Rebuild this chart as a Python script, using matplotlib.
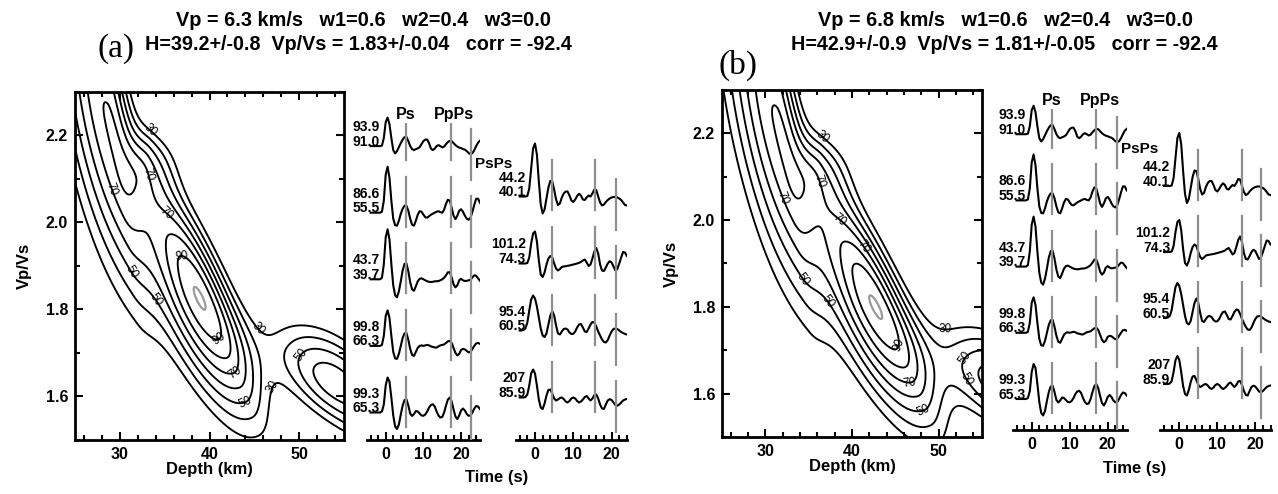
import numpy as np
import matplotlib
matplotlib.use("Agg")
import matplotlib.pyplot as plt
from matplotlib.ticker import MultipleLocator

# ------------------------------------------------------------------ data
# receiver-function traces: samples every 0.5 s starting at -4 s
rf_t0 = -4.0
rf_dt = 0.5
trace_L1 = [0,0,0,0,0,0, 0.5,8,24,28.5,22,8,-4,-7.3,-5,-1, 3,6.5,9,9.2,5,0,-3,-4,-3,-2.3,
            -1,2,5,6.5,6.5,3,-2.5,-4,-2.5,0, 1,0,-1.3,-0.5,2,4,5.3,5,3,1,
            -0.5,-1.5,-2,-3,-3.5,-5,-7,-8,-7,-4, 0,3.5,5.3]
trace_L2 = [0,0,0,0,0,0, 1,12,38,46,35,12,-6,-12.5,-13,-8, -1,4,7,7,2,-6,-12,-13,-8,-2,
            1.5,1,-2,-4.5,-5,-3.5,-2,-1,0,1, 1.5,0.5,0,3,9,13,12,5,-3,-6.5,
            -3,2,3.5,1,-3,-6,-7,-5,1,8, 14,14,10]
trace_L3 = [0,0,0,0,0,0, 1.5,15,42,50,40,15,-6,-16,-18,-12, -2,9,15.5,16,8,-3,-10,-11.5,-7,-2,
            0.5,1,0,-1,-2,-2.5,-2.7,-2.5,-2,-2, -1.7,-1,0,1.5,4,7,7,2,-5,-8,
            -6,-1,0.5,-1,-1.7,-1.5,-1,-0.5,2,4, 3.5,1,-1.5]
trace_L4 = [0,0,0,0,0,0, 1,10,30,35.5,28,10,-6,-12.5,-13,-8, 0,8,12.5,13,6,-3,-9,-10,-6,-2,
            0,0.5,0,0.5,1,0.5,-0.5,-1,-1.5,-1.7, -0.5,0.5,1,1.5,3,4.5,5,3,-2,-7,
            -9.5,-8,-4,-3,-3.5,-5,-6.5,-6,-3,0, 2.5,3,2]
trace_L5 = [0,0,0,0,0,0, 1,8,27,35,31,15,-3,-14,-16.5,-12, -2,7,12.5,13.3,7,-1,-3.5,-1.5,1.5,1,
            -1,-3,-3.3,-2,1,5,7.5,8.3,6,1, -3,-5,-4.5,0,7,13,15,11,3,-4,
            -6.5,-3,2,4,2,-1.5,-3.3,-3,0,4, 6.5,6,3.5]
trace_R1 = [0,0,0,0,0.5,8,28,48,53,42, 15,-8,-17,-13,-2,9,15.5,15,7,-3,
            -8.5,-7,-1,3,5,5,1,-4,-5.5,-3, 0.5,2.7,1,-3,-3.5,-1,1,0,3,7,
            6.5,0,-6,-9,-8,-5.5,-3.5,-2,-1,-0.5, -0.5,-1,-2,-3.5,-6,-8.5,-9]
trace_R2 = [0,0,0,0,0.5,6,20,30,32,22, 3,-11,-13.5,-9,-1,5,7.5,6,0,-5,
            -7,-5.5,-3.5,-3,-2.7,-2.3,-2,-1.5,-1,-0.5, 0,0.7,1.5,3,4,1,-2.5,-1,5,12,
            15.5,10,-1,-7,-7.5,-4,0,2.3,1,-3, -7,-5.5,0,6,11.5,11,7.5]
trace_R3 = [0,0,0.5,2,8,20,31,35,32,24, 13,2,-5,-6.5,-3,6,15,19.5,15,5,
            -3,-4,-1,1.5,2,1,-2,-3.5,-3.3,-1, 3,6,6.5,3,-1,-1.5,2,6,8.5,8,
            4,-1,-5,-9,-11.5,-12,-9.5,-5,-1,1.5, 2,1.5,0,-1.5,-2.5,-3.5,-4]
trace_R4 = [0,0,0,0.5,3,12,24,28,24,12, -2,-10,-11.5,-6,2,7.5,8,4,-1,-3,
            -2,-0.5,0,-1.5,-4,-5,-3.5,-1,0,-1, -3.5,-5,-4,-2,0.5,1.5,-1,-3,-1,2.5,
            3,-1,-7,-11,-11.5,-7,-3,-1.7,-2.5,-5, -7.5,-8.3,-7,-5,-3,-2,-1.5]

left_labels = [("93.9", "91.0"), ("86.6", "55.5"), ("43.7", "39.7"), ("99.8", "66.3"), ("99.3", "65.3")]
right_labels = [("44.2", "40.1"), ("101.2", "74.3"), ("95.4", "60.5"), ("207", "85.9")]
phase_names = ["Ps", "PpPs", "PsPs"]
# predicted phase times (s) per column
phase_t_a_left = [5.4, 17.2, 22.6]
phase_t_a_right = [4.5, 15.8, 21.1]
phase_t_b_left = [5.3, 17.0, 22.4]
phase_t_b_right = [5.0, 16.4, 21.6]

# H-k stacking surface, described by its lobes
depth_lim = (25, 55)
vpvs_lim = (1.5, 2.3)
#            main   band   upper-left  shoulder  lower-right
hk_a_depth = [39.2, 37.5, 27.5, 33.3, 54.0]
hk_a_vpvs = [1.83, 1.86, 2.45, 2.15, 1.63]
hk_a_amp = [0.70, 0.30, 0.67, 0.22, 0.66]
hk_a_sig_up = [0.28, 0.55, 0.30, 0.05, 0.20]
hk_a_sig_dn = [0.30, 0.30, 0.50, 0.10, 0.24]
hk_a_sig_lo = [0.10, 0.16, 0.12, 0.08, 0.085]
hk_a_sig_hi = [0.075, 0.07, 0.06, 0.07, 0.10]
hk_a_angle = [-62, -57, -80, -10, -30]

hk_b_depth = [42.9, 41.0, 30.1, 36.4, 57.5]
hk_b_vpvs = [1.81, 1.84, 2.43, 2.13, 1.615]
hk_b_amp = [0.70, 0.30, 0.67, 0.22, 0.68]
hk_b_sig_up = [0.29, 0.57, 0.31, 0.055, 0.21]
hk_b_sig_dn = [0.31, 0.31, 0.52, 0.11, 0.25]
hk_b_sig_lo = [0.104, 0.166, 0.125, 0.083, 0.088]
hk_b_sig_hi = [0.078, 0.073, 0.062, 0.073, 0.104]
hk_b_angle = [-60, -55, -79, -9, -28]

title_a = ["Vp = 6.3 km/s   w1=0.6   w2=0.4   w3=0.0",
           "H=39.2+/-0.8  Vp/Vs = 1.83+/-0.04   corr = -92.4"]
title_b = ["Vp = 6.8 km/s   w1=0.6   w2=0.4   w3=0.0",
           "H=42.9+/-0.9  Vp/Vs = 1.81+/-0.05   corr = -92.4"]

# contour-label anchor points (depth, Vp/Vs)
clab_a = [(33.25, 2.21), (33.07, 2.11), (29.3, 2.078), (35.5, 2.027), (37.1, 1.937),
          (32.1, 1.898), (33.0, 1.807), (46.2, 1.77), (49.4, 1.71), (41.2, 1.73),
          (42.8, 1.655), (47.0, 1.622), (43.9, 1.589)]
clab_b = [(36.4, 2.186), (36.2, 2.09), (32.4, 2.054), (38.7, 2.004), (40.4, 1.924),
          (35.3, 1.878), (36.0, 1.793), (50.8, 1.753), (52.8, 1.685), (44.9, 1.713),
          (46.6, 1.64), (51.5, 1.613), (48.5, 1.548)]

# ------------------------------------------------------------------ figure
W, H = 1278, 494
plt.rcParams['font.family'] = ['Liberation Sans', 'DejaVu Sans']
plt.rcParams['font.weight'] = 'bold'
plt.rcParams['axes.labelweight'] = 'bold'
fig = plt.figure(figsize=(W / 100, H / 100), dpi=100)


def px_axes(l, t, r, b):
    return fig.add_axes([l / W, 1 - b / H, (r - l) / W, (b - t) / H])


def hk_surface(D, K, dep, vk, amp, s_up, s_dn, s_lo, s_hi, ang):
    u = (D - depth_lim[0]) / (depth_lim[1] - depth_lim[0])
    v = (K - vpvs_lim[0]) / (vpvs_lim[1] - vpvs_lim[0])
    F = np.zeros_like(D)
    for cd, ck, a, su, sd, sl, sh, th in zip(dep, vk, amp, s_up, s_dn, s_lo, s_hi, ang):
        cu = (cd - depth_lim[0]) / (depth_lim[1] - depth_lim[0])
        cv = (ck - vpvs_lim[0]) / (vpvs_lim[1] - vpvs_lim[0])
        r = np.deg2rad(th)
        du, dv = u - cu, v - cv
        al = du * np.cos(r) + dv * np.sin(r)
        ac = -du * np.sin(r) + dv * np.cos(r)
        sa = np.where(al < 0, su, sd)
        sc = np.where(ac < 0, sl, sh)
        F += a * np.exp(-0.5 * ((al / sa) ** 2 + (ac / sc) ** 2))
    return 100 * F / F.max()


def draw_hk(ax, params, clab):
    d = np.linspace(depth_lim[0], depth_lim[1], 400)
    k = np.linspace(vpvs_lim[0], vpvs_lim[1], 400)
    D, K = np.meshgrid(d, k)
    F = hk_surface(D, K, *params)
    ax.contour(D, K, F, levels=[40, 60, 80], colors='black', linewidths=1.35)
    cs = ax.contour(D, K, F, levels=[30, 50, 70, 90], colors='black', linewidths=1.35)
    ax.contour(D, K, F, levels=[99.2], colors='#9a9a9a', linewidths=1.6)
    labs = ax.clabel(cs, manual=clab, inline=False, fontsize=8.5, fmt='%d')
    for t in labs:
        t.set_fontweight('normal')
    ax.set_xlim(*depth_lim)
    ax.set_ylim(*vpvs_lim)
    ax.set_xticks([30, 40, 50])
    ax.set_yticks([1.6, 1.8, 2.0, 2.2])
    ax.xaxis.set_minor_locator(MultipleLocator(2))
    ax.yaxis.set_minor_locator(MultipleLocator(0.1))
    ax.tick_params(which='both', direction='in', top=True, right=True, width=1.5, labelsize=11.5)
    ax.tick_params(which='major', length=6, pad=5)
    ax.tick_params(which='minor', length=3.5)
    for s in ax.spines.values():
        s.set_linewidth(2)
    ax.set_xlabel("Depth (km)", fontsize=12, labelpad=0)
    ax.set_ylabel("Vp/Vs", fontsize=12, labelpad=10)


def draw_traces(ax, traces, labels, base0, spacing, ptimes, xlim, ytop, lab_x,
                with_names=False, pname_dy=(32, -18)):
    n = len(traces)
    ext = [(36, -14), (36, -14), (17, -34)]
    for i, (tr, (lt, lb)) in enumerate(zip(traces, labels)):
        y0 = base0 + spacing * (n - 1 - i)
        t = rf_t0 + rf_dt * np.arange(len(tr))
        ax.plot(t, y0 + np.asarray(tr, dtype=float), color='black', lw=1.5, zorder=2,
                solid_joinstyle='round')
        for tm, (up, dn) in zip(ptimes, ext):
            ax.plot([tm, tm], [y0 + dn, y0 + up], color='#8f8f8f', lw=1.6, zorder=3)
        ax.text(lab_x, y0 + 0.5, lb, ha='right', va='baseline', fontsize=10, zorder=4)
        ax.text(lab_x, y0 + 19, lt, ha='right', va='center', fontsize=10, zorder=4)
    if with_names:
        ytop_tr = base0 + spacing * (n - 1)
        ax.text(ptimes[0], ytop_tr + pname_dy[0], phase_names[0], ha='center', va='center',
                fontsize=11.5, zorder=5, bbox=dict(facecolor='white', edgecolor='none', pad=1.0))
        ax.text(ptimes[1] + 1.0, ytop_tr + pname_dy[0], phase_names[1], ha='center', va='center',
                fontsize=11.5, zorder=5, bbox=dict(facecolor='white', edgecolor='none', pad=1.0))
        ax.text(ptimes[2] + 1.1, ytop_tr + pname_dy[1], phase_names[2], ha='left', va='center',
                fontsize=11, zorder=5)
    ax.set_xlim(*xlim)
    ax.set_ylim(0, ytop)
    for s in ['left', 'right', 'top']:
        ax.spines[s].set_visible(False)
    ax.spines['bottom'].set_linewidth(2)
    ax.set_yticks([])
    ax.set_xticks([0, 10, 20])
    ax.xaxis.set_minor_locator(MultipleLocator(2))
    ax.tick_params(which='both', direction='in', width=1.5, labelsize=11.5)
    ax.tick_params(which='major', length=6, pad=5)
    ax.tick_params(which='minor', length=3.5)
    ax.patch.set_alpha(0)


left_traces = [trace_L1, trace_L2, trace_L3, trace_L4, trace_L5]
right_traces = [trace_R1, trace_R2, trace_R3, trace_R4]

# ---------------- panel (a)
ax_a = px_axes(75, 92, 344, 440)
draw_hk(ax_a, (hk_a_depth, hk_a_vpvs, hk_a_amp, hk_a_sig_up, hk_a_sig_dn, hk_a_sig_lo, hk_a_sig_hi,
               hk_a_angle), clab_a)
ta1 = px_axes(366.85, 92, 479.95, 440)
draw_traces(ta1, left_traces, left_labels, 27.5, 66.6, phase_t_a_left, (-5, 25), 348, -1.6,
            with_names=True, pname_dy=(32, -18))
ta2 = px_axes(515.85, 92, 626.9, 440)
draw_traces(ta2, right_traces, right_labels, 42.5, 67, phase_t_a_right, (-5, 24), 348, -2.4)
fig.text(497 / W, 1 - 477 / H, "Time (s)", ha='center', va='center', fontsize=12)
fig.text(364 / W, 1 - 21 / H, title_a[0], ha='center', va='center', fontsize=14.3)
fig.text(358 / W, 1 - 44 / H, title_a[1], ha='center', va='center', fontsize=14.2)
fig.text(116 / W, 1 - 49 / H, "(a)", ha='center', va='center', fontsize=24,
         family=['Liberation Serif', 'DejaVu Serif'], fontweight='normal')

# ---------------- panel (b)
ax_b = px_axes(722, 90, 982, 437)
draw_hk(ax_b, (hk_b_depth, hk_b_vpvs, hk_b_amp, hk_b_sig_up, hk_b_sig_dn, hk_b_sig_lo, hk_b_sig_hi,
               hk_b_angle), clab_b)
tb1 = px_axes(1012.7, 90, 1126.7, 430)
draw_traces(tb1, left_traces, left_labels, 31, 66.2, phase_t_b_left, (-5, 25), 340, -1.6,
            with_names=True, pname_dy=(34, -15))
tb2 = px_axes(1160.3, 90, 1270.5, 430)
draw_traces(tb2, right_traces, right_labels, 46, 66, phase_t_b_right, (-5, 24), 340, -2.4)
fig.text(1135 / W, 1 - 468 / H, "Time (s)", ha='center', va='center', fontsize=12)
fig.text(1006 / W, 1 - 21 / H, title_b[0], ha='center', va='center', fontsize=14.3)
fig.text(1004 / W, 1 - 45 / H, title_b[1], ha='center', va='center', fontsize=14.2)
fig.text(738 / W, 1 - 65 / H, "(b)", ha='center', va='center', fontsize=24,
         family=['Liberation Serif', 'DejaVu Serif'], fontweight='normal')

fig.savefig("out.png", dpi=100, facecolor='white')
